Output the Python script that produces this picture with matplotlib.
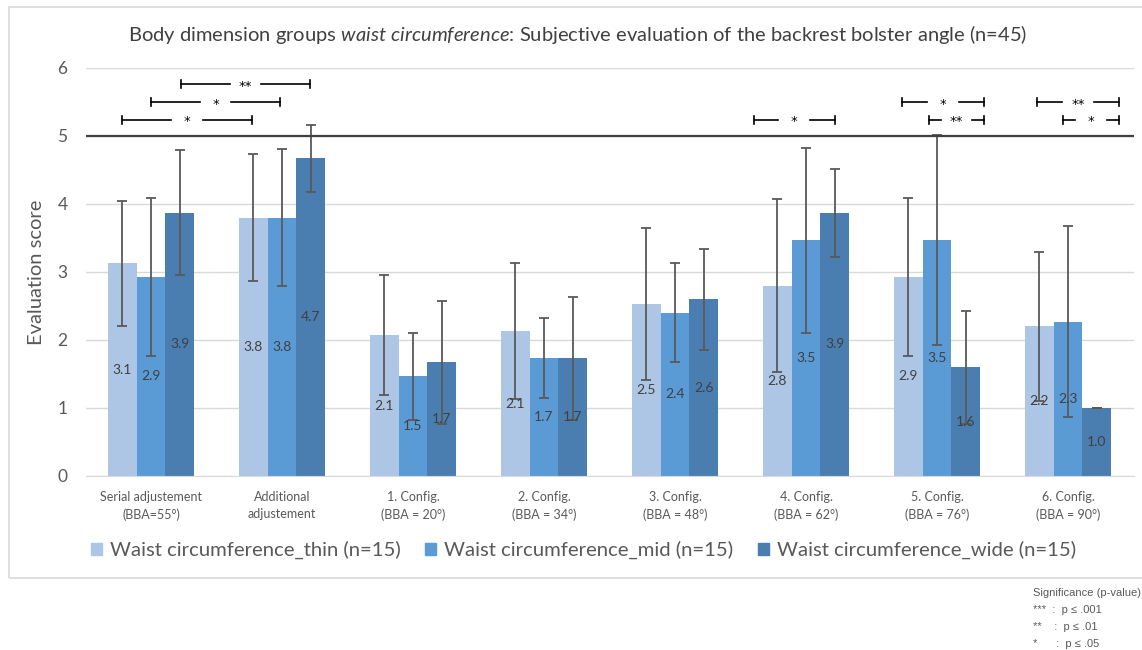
import numpy as np
import matplotlib
matplotlib.use('Agg')
import matplotlib.pyplot as plt
from matplotlib.patches import Patch, Rectangle

plt.rcParams['font.family'] = ['Lato', 'DejaVu Sans']
plt.rcParams['mathtext.fontset'] = 'custom'
plt.rcParams['mathtext.rm'] = 'Lato'
plt.rcParams['mathtext.it'] = 'Lato:italic'

# data
categories = ['Serial adjustement\n(BBA=55°)', 'Additional\nadjustement', '1. Config.\n(BBA = 20°)',
              '2. Config.\n(BBA = 34°)', '3. Config.\n(BBA = 48°)', '4. Config.\n(BBA = 62°)',
              '5. Config.\n(BBA = 76°)', '6. Config.\n(BBA = 90°)']
series = ['Waist circumference_thin (n=15)', 'Waist circumference_mid (n=15)',
          'Waist circumference_wide (n=15)']
thin = [3.13, 3.80, 2.07, 2.13, 2.53, 2.80, 2.93, 2.20]
mid = [2.93, 3.80, 1.47, 1.73, 2.40, 3.47, 3.47, 2.27]
wide = [3.87, 4.67, 1.67, 1.73, 2.60, 3.87, 1.60, 1.00]
thin_sd = [0.92, 0.93, 0.88, 1.00, 1.12, 1.27, 1.16, 1.10]
mid_sd = [1.16, 1.01, 0.64, 0.59, 0.73, 1.36, 1.55, 1.40]
wide_sd = [0.92, 0.49, 0.90, 0.90, 0.74, 0.65, 0.83, 0.00]
# significance brackets: (x start, x end, y, stars)
brackets = [(-0.22, 0.77, 5.24, '*'), (0.0, 0.985, 5.50, '*'), (0.23, 1.21, 5.76, '**'),
            (4.60, 5.22, 5.24, '*'), (5.73, 6.36, 5.50, '*'), (5.94, 6.36, 5.24, '**'),
            (6.76, 7.39, 5.50, '**'), (6.96, 7.39, 5.24, '*')]

colors = ['#adc6e5', '#5b9bd5', '#4a7eb0']
grey = '#595959'

fig = plt.figure(figsize=(11.42, 6.5), dpi=100)
fig.patches.append(Rectangle((9 / 1142, 1 - 578 / 650), 1.2, 571 / 650, transform=fig.transFigure,
                             fill=False, edgecolor='#d9d9d9', linewidth=1.2))
ax = fig.add_axes([85.5 / 1142, 1 - 476 / 650, 1048 / 1142, 408 / 650])

x = np.arange(len(categories))
w = 0.221
for i, (vals, sds) in enumerate(zip([thin, mid, wide], [thin_sd, mid_sd, wide_sd])):
    xs = x + (i - 1) * w
    ax.bar(xs, vals, w, color=colors[i], zorder=2)
    ax.errorbar(xs, vals, yerr=sds, fmt='none', ecolor='#595959', elinewidth=1.3,
                capsize=3.5, capthick=1.3, zorder=3)
    for xi, v in zip(xs, vals):
        ax.text(xi, v / 2, f'{v:.1f}', ha='center', va='center', fontsize=10,
                color='#404040', zorder=4)

ax.axhline(5, color='#404040', linewidth=1.6, zorder=3, xmin=-0.003)

for x0, x1, y, s in brackets:
    m = (x0 + x1) / 2
    g = 0.12
    ax.plot([x0, m - g], [y, y], color='black', lw=1.2)
    ax.plot([m + g, x1], [y, y], color='black', lw=1.2)
    ax.plot([x0, x0], [y - 0.06, y + 0.06], color='black', lw=1.2)
    ax.plot([x1, x1], [y - 0.06, y + 0.06], color='black', lw=1.2)
    ax.text(m, y - 0.03, s, ha='center', va='center', fontsize=9.5, color='black',
            family='DejaVu Sans')

ax.set_xlim(-0.5, 7.5)
ax.set_ylim(0, 6)
ax.set_yticks(range(7))
ax.yaxis.grid(True, color='#d9d9d9', linewidth=1)
ax.set_axisbelow(True)
for sp in ['top', 'right', 'left']:
    ax.spines[sp].set_visible(False)
ax.spines['bottom'].set_color('#d9d9d9')
ax.tick_params(length=0, colors=grey)
ax.tick_params(axis='y', labelsize=12.5, pad=13)
ax.set_xticks(x)
ax.set_xticklabels(categories, fontsize=9, color=grey, linespacing=1.45)
ax.tick_params(axis='x', pad=11)
ax.set_ylabel('Evaluation score', fontsize=14.5, color=grey, labelpad=9)

fig.text(0.506, 1 - 35 / 650, r'Body dimension groups $\mathit{waist\ circumference}$: '
         'Subjective evaluation of the backrest bolster angle (n=45)',
         ha='center', va='center', fontsize=14.5, color='#404040')

handles = [Patch(color=c) for c in colors]
fig.legend(handles, series, loc='center', bbox_to_anchor=(0.511, 1 - 550 / 650), ncol=3,
           frameon=False, fontsize=14.6, handlelength=0.55, handleheight=0.55,
           handletextpad=0.4, columnspacing=1.2, labelcolor=grey)

sig = ['Significance (p-value)', '***  :  p ≤ .001', '**    :  p ≤ .01', '*      :  p ≤ .05']
for k, t in enumerate(sig):
    fig.text(1033 / 1142, 1 - (593 + 17 * k) / 650, t, fontsize=8, color=grey,
             family=['Liberation Sans', 'DejaVu Sans'], va='center')

fig.savefig('out.png', dpi=100)
